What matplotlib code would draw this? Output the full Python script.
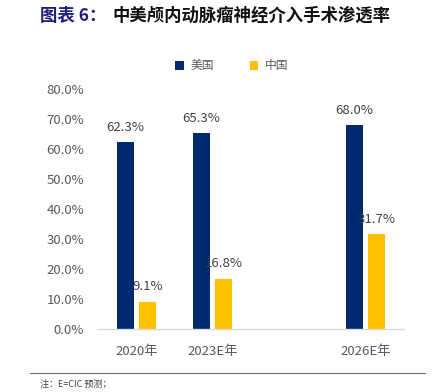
import numpy as np
import matplotlib
matplotlib.use("Agg")
import matplotlib.pyplot as plt
from matplotlib.lines import Line2D

plt.rcParams['font.family'] = ['Noto Sans CJK SC', 'DejaVu Sans']

# data
categories = ['2020年', '2023E年', '', '2026E年']
us_values = [62.3, 65.3, np.nan, 68.0]
cn_values = [9.1, 16.8, np.nan, 31.7]
y_ticks = [0, 10, 20, 30, 40, 50, 60, 70, 80]

us_color = '#002a70'
cn_color = '#ffc000'
text_gray = '#595959'

fig = plt.figure(figsize=(4.37, 3.92), dpi=100)
ax = fig.add_axes([98 / 437, 62.7 / 392, 306 / 437, 240 / 392])

x = np.arange(len(categories))
w = 0.22
off = 0.145
ax.bar(x - off, us_values, width=w, color=us_color, label='美国')
ax.bar(x + off, cn_values, width=w, color=cn_color, label='中国')

for xi, v in zip(x, us_values):
    if not np.isnan(v):
        ax.text(xi - off, v + 5.0, f'{v:.1f}%', ha='center', va='center',
                fontsize=9.5, color='#404040')
for xi, v in zip(x, cn_values):
    if not np.isnan(v):
        ax.text(xi + off, v + 5.0, f'{v:.1f}%', ha='center', va='center',
                fontsize=9.5, color='#404040')

ax.set_xlim(-0.5, 3.5)
ax.set_ylim(0, 80)
ax.set_yticks(y_ticks)
ax.set_yticklabels([f'{t:.1f}%' for t in y_ticks])
ax.set_xticks(x)
ax.set_xticklabels(categories)
ax.tick_params(axis='y', length=0, pad=10, labelsize=9.5, labelcolor=text_gray)
ax.tick_params(axis='x', length=0, pad=11, labelsize=9.5, labelcolor=text_gray)
for s in ['top', 'right', 'left']:
    ax.spines[s].set_visible(False)
ax.spines['bottom'].set_color('#d9d9d9')
ax.spines['bottom'].set_linewidth(1)

leg = fig.legend(loc='center', bbox_to_anchor=(232 / 437, 1 - 66 / 392), ncol=2,
                 frameon=False, fontsize=8.5, handlelength=0.7, handleheight=0.7,
                 columnspacing=3.0, handletextpad=0.6)
for t in leg.get_texts():
    t.set_color(text_gray)

# title
fig.text(40 / 437, 1 - 16 / 392, '图表 6：', fontsize=12.5, fontweight='bold',
         color='#1f1f7a', va='center', ha='left')
fig.text(112 / 437, 1 - 16 / 392, '中美颅内动脉瘤神经介入手术渗透率', fontsize=12.5,
         fontweight='bold', color='#111111', va='center', ha='left')

# footer
fig.add_artist(Line2D([30 / 437, 425 / 437], [1 - 373 / 392, 1 - 373 / 392],
                      color='#6b6b9b', linewidth=0.8))
fig.text(40 / 437, 1 - 384 / 392, '注：E=CIC 预测；', fontsize=6.5,
         color='#404040', va='center', ha='left')

fig.savefig('out.png', dpi=100)
